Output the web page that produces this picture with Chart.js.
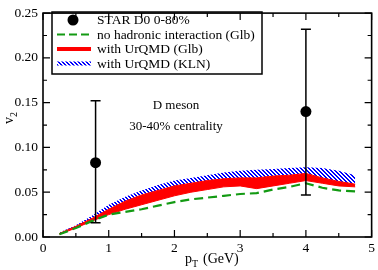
<!DOCTYPE html>
<html>
<head>
<meta charset="utf-8">
<script src="https://cdn.jsdelivr.net/npm/chart.js@4"></script>
<style>
  html, body { margin: 0; padding: 0; background: #fff; }
  #wrap { width: 378px; height: 270px; }
</style>
</head>
<body>
<div id="wrap"><canvas id="myChart" width="378" height="270"></canvas></div>
<script>
// pT grid of the model curves
const ptValues = [0.25, 0.5, 0.75, 1.0, 1.25, 1.5, 1.75, 2.0, 2.25, 2.5, 2.75, 3.0, 3.25, 3.5, 3.75, 4.0, 4.25, 4.5, 4.75];
// no hadronic interaction (Glb)
const noHadronic = [0.003, 0.010, 0.018, 0.025, 0.028, 0.031, 0.035, 0.039, 0.042, 0.044, 0.046, 0.048, 0.049, 0.053, 0.056, 0.060, 0.055, 0.052, 0.051];
// with UrQMD (Glb) band
const glbLow = [0.003, 0.010, 0.018, 0.025, 0.031, 0.036, 0.041, 0.046, 0.050, 0.053, 0.056, 0.057, 0.054, 0.057, 0.060, 0.063, 0.060, 0.057, 0.056];
const glbHigh = [0.004, 0.012, 0.021, 0.031, 0.040, 0.047, 0.052, 0.057, 0.060, 0.063, 0.065, 0.066, 0.066, 0.068, 0.069, 0.071, 0.066, 0.062, 0.059];
// with UrQMD (KLN) band top (bottom is glbHigh)
const klnHigh = [0.005, 0.013, 0.024, 0.036, 0.045, 0.052, 0.058, 0.063, 0.066, 0.069, 0.072, 0.074, 0.075, 0.076, 0.077, 0.078, 0.077, 0.074, 0.069];
// STAR D0 0-80%
const starPt = [0.8, 4.0];
const starV2 = [0.083, 0.140];
const starLow = [0.016, 0.047];
const starHigh = [0.152, 0.232];

const legendLabels = ["STAR D0 0-80%", "no hadronic interaction (Glb)", "with UrQMD (Glb)", "with UrQMD (KLN)"];

const serif = "'Liberation Serif', 'Times New Roman', serif";
const green = "#139a13";

// blue / white hatch for the KLN band
const makeHatch = () => {
    const c = document.createElement("canvas");
    c.width = 4;
    c.height = 4;
    const g = c.getContext("2d");
    g.fillStyle = "#fff";
    g.fillRect(0, 0, 4, 4);
    g.fillStyle = "#0000ff";
    for (let i = 0; i < 4; i++) {
        g.fillRect(i, i, 1, 1);
        g.fillRect((i + 1) % 4, i, 1, 1);
    }
    return g.createPattern(c, "repeat");
};
const hatch = makeHatch();

const toPts = (xs, ys) => xs.map((x, i) => ({ x: x, y: ys[i] }));

const framePlugin = {
    id: "frame",
    afterDatasetsDraw(chart) {
        const ctx = chart.ctx;
        const xs = chart.scales.x;
        const ys = chart.scales.y;
        const a = chart.chartArea;
        ctx.save();

        // error bars
        ctx.strokeStyle = "#000";
        ctx.lineWidth = 1.5;
        starPt.forEach((p, i) => {
            const px = xs.getPixelForValue(p);
            const y1 = ys.getPixelForValue(starLow[i]);
            const y2 = ys.getPixelForValue(starHigh[i]);
            ctx.beginPath();
            ctx.moveTo(px, y1);
            ctx.lineTo(px, y2);
            ctx.moveTo(px - 5, y1);
            ctx.lineTo(px + 5, y1);
            ctx.moveTo(px - 5, y2);
            ctx.lineTo(px + 5, y2);
            ctx.stroke();
        });

        // frame
        ctx.lineWidth = 1.6;
        ctx.strokeRect(a.left, a.top, a.right - a.left, a.bottom - a.top);

        // inward ticks
        ctx.lineWidth = 1.2;
        ctx.beginPath();
        for (let k = 0; k <= 10; k++) {
            const px = xs.getPixelForValue(k * 0.5);
            const len = k % 2 === 0 ? 7 : 4;
            ctx.moveTo(px, a.bottom);
            ctx.lineTo(px, a.bottom - len);
            ctx.moveTo(px, a.top);
            ctx.lineTo(px, a.top + len);
        }
        for (let k = 0; k <= 10; k++) {
            const py = ys.getPixelForValue(k * 0.025);
            const len = k % 2 === 0 ? 7 : 4;
            ctx.moveTo(a.left, py);
            ctx.lineTo(a.left + len, py);
            ctx.moveTo(a.right, py);
            ctx.lineTo(a.right - len, py);
        }
        ctx.stroke();

        // axis titles
        ctx.fillStyle = "#000";
        ctx.textBaseline = "alphabetic";
        ctx.textAlign = "left";
        ctx.font = "14px " + serif;
        const tx = 185;
        ctx.fillText("p", tx, 263);
        ctx.font = "10px " + serif;
        ctx.fillText("T", tx + 7, 267);
        ctx.font = "14px " + serif;
        ctx.fillText("(GeV)", tx + 18, 263);

        ctx.save();
        ctx.translate(13, 124);
        ctx.rotate(-Math.PI / 2);
        ctx.font = "14px " + serif;
        ctx.fillText("v", 0, 0);
        ctx.font = "10px " + serif;
        ctx.fillText("2", 7, 4);
        ctx.restore();

        // annotation
        ctx.font = "13px " + serif;
        ctx.textAlign = "center";
        ctx.textBaseline = "middle";
        ctx.fillText("D meson", 176, 106);
        ctx.fillText("30-40% centrality", 176, 127);

        // legend
        ctx.lineWidth = 1.5;
        ctx.strokeStyle = "#000";
        ctx.strokeRect(52, 12, 210, 62);
        const rows = [20, 34.5, 49, 63.5];
        ctx.textAlign = "left";
        ctx.font = "13.5px " + serif;
        legendLabels.forEach((t, i) => ctx.fillText(t, 97, rows[i] + 0.5));

        ctx.beginPath();
        ctx.arc(73, rows[0], 5.5, 0, Math.PI * 2);
        ctx.fill();

        ctx.strokeStyle = green;
        ctx.lineWidth = 2.2;
        ctx.setLineDash([8, 4]);
        ctx.beginPath();
        ctx.moveTo(57, rows[1]);
        ctx.lineTo(91, rows[1]);
        ctx.stroke();
        ctx.setLineDash([]);

        ctx.fillStyle = "#ff0000";
        ctx.fillRect(57, rows[2] - 2, 34, 4);
        ctx.fillStyle = hatch;
        ctx.fillRect(57, rows[3] - 2, 34, 4);

        ctx.restore();
    }
};

const ctx = document.getElementById("myChart").getContext("2d");
const myChart = new Chart(ctx, {
    type: "line",
    data: {
        datasets: [
            {
                label: "STAR",
                data: toPts(starPt, starV2),
                showLine: false,
                pointRadius: 5.5,
                pointBackgroundColor: "#000",
                pointBorderWidth: 0,
                order: 0
            },
            {
                label: "noHadronic",
                data: toPts(ptValues, noHadronic),
                borderColor: green,
                borderWidth: 2.2,
                borderDash: [9, 5],
                pointRadius: 0,
                fill: false,
                order: 1
            },
            {
                label: "klnHigh",
                data: toPts(ptValues, klnHigh),
                borderColor: "rgba(0,0,0,0)",
                borderWidth: 0,
                backgroundColor: hatch,
                pointRadius: 0,
                fill: "+1",
                order: 4
            },
            {
                label: "glbHigh",
                data: toPts(ptValues, glbHigh),
                borderColor: "#ff0000",
                borderWidth: 1,
                backgroundColor: "#ff0000",
                pointRadius: 0,
                fill: "+1",
                order: 3
            },
            {
                label: "glbLow",
                data: toPts(ptValues, glbLow),
                borderColor: "#ff0000",
                borderWidth: 1,
                pointRadius: 0,
                fill: false,
                order: 3
            }
        ]
    },
    options: {
        responsive: false,
        animation: false,
        layout: { padding: { top: 5, right: 5, left: 0, bottom: 0 } },
        plugins: {
            legend: { display: false },
            tooltip: { enabled: false }
        },
        scales: {
            x: {
                type: "linear",
                min: 0,
                max: 5,
                grid: { display: false, drawTicks: false },
                border: { display: false },
                ticks: {
                    stepSize: 1,
                    autoSkip: false,
                    maxRotation: 0,
                    padding: 3,
                    color: "#000",
                    font: { family: serif, size: 13.5 }
                },
                afterFit: s => { s.height = 33; }
            },
            y: {
                min: 0,
                max: 0.25,
                grid: { display: false, drawTicks: false },
                border: { display: false },
                ticks: {
                    stepSize: 0.05,
                    padding: 5,
                    color: "#000",
                    font: { family: serif, size: 13.5 },
                    callback: v => v.toFixed(2)
                },
                afterFit: s => { s.width = 43; }
            }
        }
    },
    plugins: [framePlugin]
});
</script>
</body>
</html>
